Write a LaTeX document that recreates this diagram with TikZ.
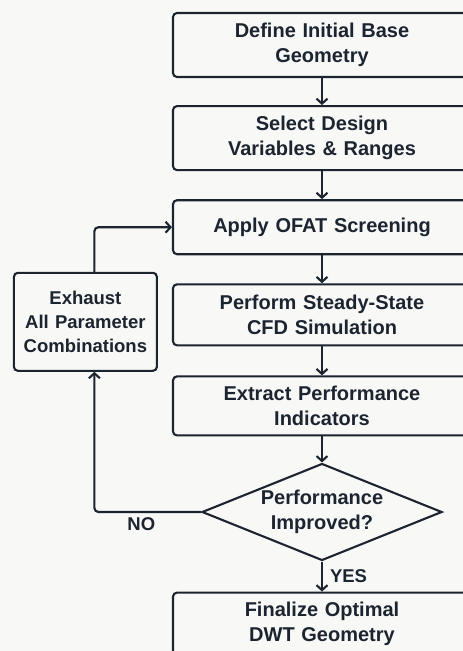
\documentclass[tikz,border=0pt]{standalone}
\usepackage{fontspec}
\setmainfont{Liberation Sans}
\usetikzlibrary{positioning,shapes.geometric,arrows.meta}
\definecolor{ink}{HTML}{1C2430}
\definecolor{paper}{HTML}{F8F8F7}

\begin{document}
\begin{tikzpicture}[x=1pt, y=1pt, node distance=28pt,
	main/.style = {draw=ink, line width=2.1pt, rounded corners=4pt, minimum width=298pt, text width=290pt, align=center, inner sep=0pt, text=ink, font=\bfseries\fontsize{20}{25}\selectfont},
	cond/.style = {diamond, draw=ink, line width=2.1pt, aspect=2.47, minimum width=240pt, minimum height=97pt, inner sep=0pt, align=center, text=ink, font=\bfseries\fontsize{20}{25}\selectfont},
	side/.style = {main, minimum width=143pt, text width=138pt, minimum height=98pt, font=\bfseries\fontsize{18.5}{24}\selectfont},
	lbl/.style = {text=ink, inner sep=2pt, font=\bfseries\fontsize{18.5}{22}\selectfont},
	edge/.style = {-{Straight Barb[length=5pt,width=11pt]}, draw=ink, line width=2.1pt}]

	\useasboundingbox (0,0) rectangle (463,-651);
	\fill[paper] (0,0) rectangle (463,-651);
	\clip (0,0) rectangle (463,-651);

	\node[main, minimum height=64pt] (1) at (322,-45) {Define Initial Base\\Geometry};
	\node[main, minimum height=64pt] (2) [below=27pt of 1] {Select Design\\Variables \& Ranges};
	\node[main, minimum height=54pt] (3) [below=of 2] {Apply OFAT Screening};
	\node[main, minimum height=61pt] (4) [below=of 3] {Perform Steady-State\\CFD Simulation};
	\node[main, minimum height=59pt] (5) [below=29pt of 4] {Extract Performance\\Indicators};
	\node[cond] (6) [below=26pt of 5] {Performance\\Improved?};
	\node[main, minimum height=62pt] (7) [below=30pt of 6] {Finalize Optimal\\DWT Geometry};
	\node[side] (8) [left=14pt of 4, yshift=-7pt] {Exhaust\\All Parameter\\Combinations};

	\path[edge]
	(1) edge node[] {} (2)
	(2) edge node[] {} (3)
	(3) edge node[] {} (4)
	(4) edge node[] {} (5)
	(5) edge node[] {} (6)
	(6) edge node[lbl, right, xshift=5pt] {YES} (7);

	\draw[edge, rounded corners=4pt] (6.west) -| node[lbl, below, pos=0.28, yshift=-3pt] {NO} ([xshift=9pt]8.south);
	\draw[edge, rounded corners=4pt] ([xshift=9pt]8.north) |- (3.west);

\end{tikzpicture}
\end{document}
